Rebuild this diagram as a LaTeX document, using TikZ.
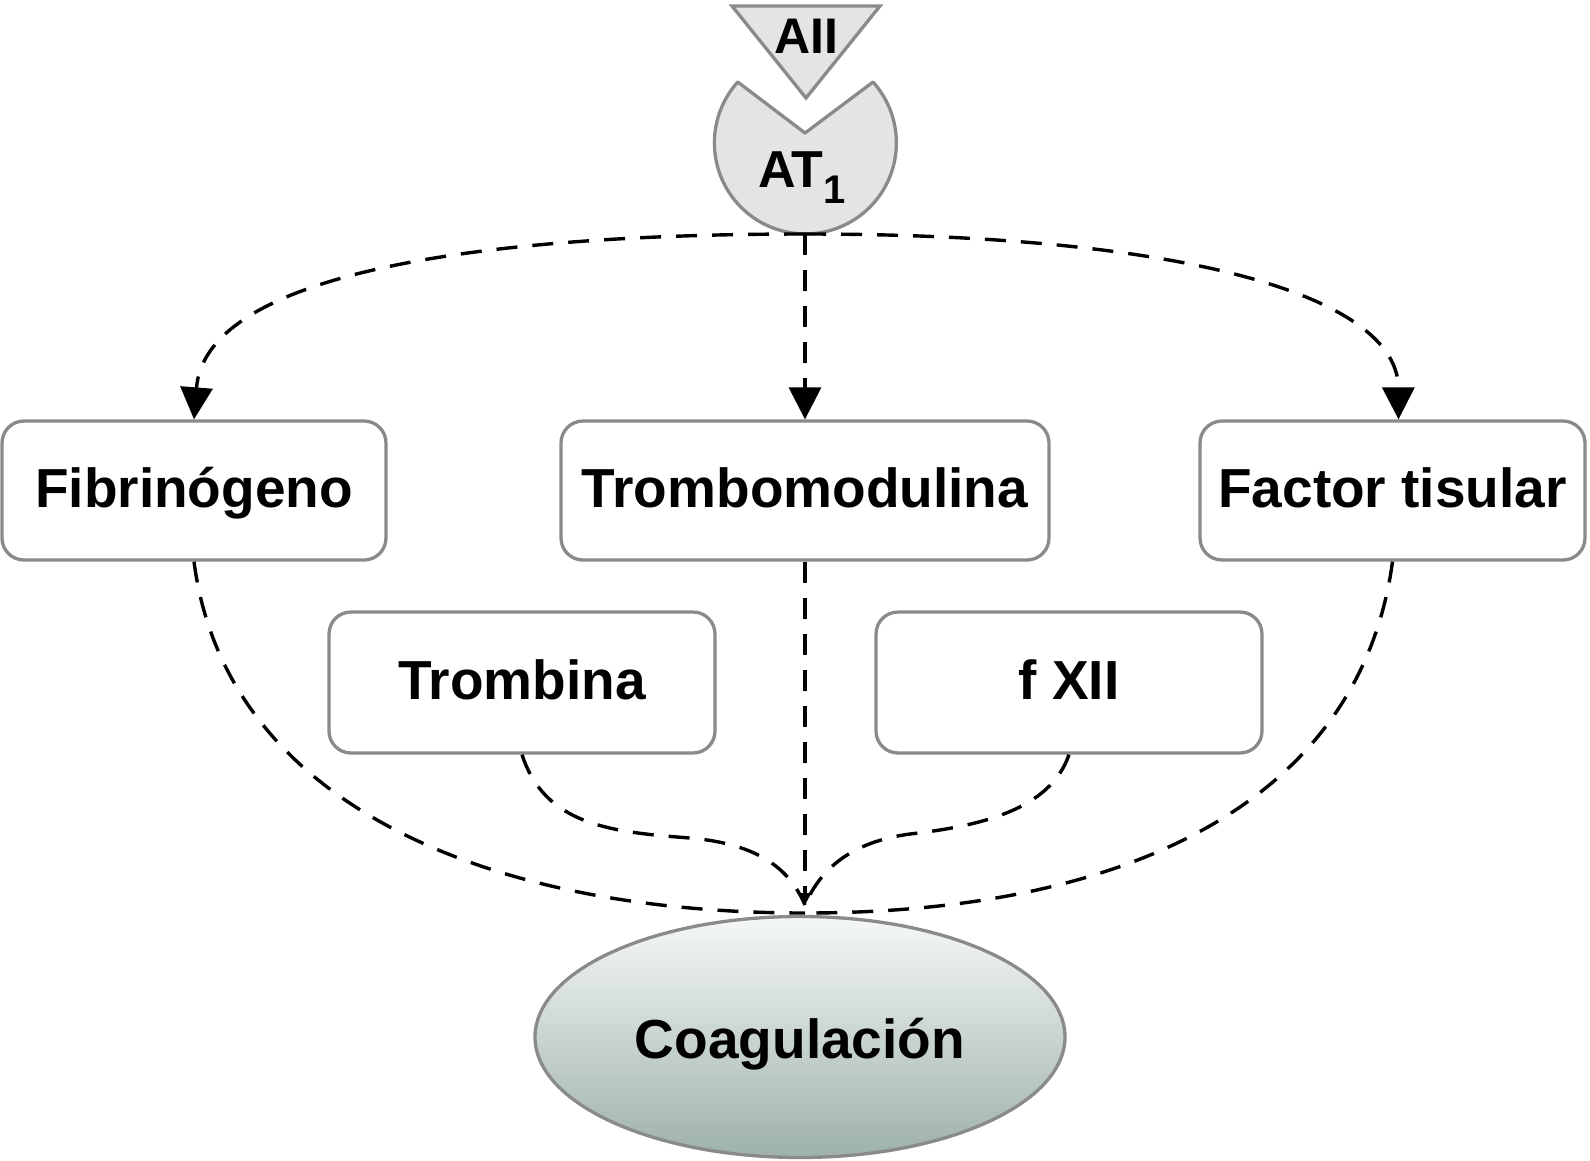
\documentclass[tikz,border=0pt]{standalone}
\usepackage{fontspec}
\setmainfont{Liberation Sans}
\usetikzlibrary{arrows.meta,shapes.geometric,calc}
\definecolor{bordergray}{RGB}{138,138,138}
\definecolor{fillgray}{RGB}{228,228,228}
\definecolor{ellTop}{RGB}{245,248,247}
\definecolor{ellBot}{RGB}{158,177,172}
\begin{document}
\begin{tikzpicture}[x=1pt,y=-1pt,
  box/.style={draw=bordergray, line width=3.3pt, rounded corners=22pt, fill=white,
    font=\fontsize{55}{60}\selectfont\bfseries, text height=46pt, text depth=12pt,
    inner sep=0pt, minimum height=139pt},
  dline/.style={black, line width=3.4pt, dash pattern=on 21pt off 15pt},
  bigtip/.style={-{Triangle[length=32pt,width=32pt]}},
  smalltip/.style={-{Triangle[length=12pt,width=12pt]}},
  shapeline/.style={draw=bordergray, fill=fillgray, line width=3.3pt, line join=miter}
]
\useasboundingbox (0,0) rectangle (1590,1160);

% AT1 receptor (pac-man shape)
\filldraw[shapeline, line join=round] (873,82) arc[start angle=-42, end angle=222, radius=91] -- (805,133) -- cycle;
\node[font=\fontsize{52}{56}\selectfont\bfseries, inner sep=0pt, anchor=base] (at1) at (802,187)
  {AT\raisebox{-16pt}{\fontsize{40}{44}\selectfont\bfseries 1}};
% AII ligand
\filldraw[shapeline] (732,6) -- (880,6) -- (806,98) -- cycle;
\node[font=\fontsize{50}{54}\selectfont\bfseries, inner sep=0pt] (aii) at (806,36) {AII};

\coordinate (at1b) at (805,234);
\coordinate (conv) at (805,905);
\coordinate (convb) at (805,913);

% boxes
\node[box, minimum width=384pt] (fib) at (194,490.5) {Fibrinógeno};
\node[box, minimum width=488pt] (tmod) at (805,490.5) {Trombomodulina};
\node[box, minimum width=385pt] (ft) at (1392.5,490.5) {Factor tisular};
\node[box, minimum width=386pt, minimum height=141pt] (tromb) at (522,682.5) {Trombina};
\node[box, minimum width=386pt, minimum height=141pt] (fxii) at (1069,682.5) {f XII};

% coagulation
\node[ellipse, draw=bordergray, line width=3.3pt, top color=ellTop, bottom color=ellBot,
  minimum width=530pt, minimum height=241pt, inner sep=0pt,
  font=\fontsize{55}{60}\selectfont\bfseries, text height=52pt, text depth=10pt] (coag) at (800,1037) {Coagulación};

% top connectors
\draw[dline, bigtip] (at1b) .. controls (450,234) and (205,280) .. (fib.north);
\draw[dline, bigtip] (at1b) -- (tmod.north);
\draw[dline, bigtip] (at1b) .. controls (1200,234) and (1398,300) .. ($(ft.north)+(6,0)$);

% bottom connectors
\draw[dline] (fib.south) .. controls (225,800) and (480,913) .. (convb);
\draw[dline] (ft.south) .. controls (1360,800) and (1130,913) .. (convb);
\draw[dline] (tromb.south) .. controls (545,825) and (610,832) .. (690,838) .. controls (760,844) and (790,870) .. (conv);
\draw[dline] (fxii.south) .. controls (1050,810) and (980,826) .. (910,834) .. controls (850,842) and (820,870) .. (conv);
\draw[dline, smalltip] (tmod.south) -- (conv);
\end{tikzpicture}
\end{document}
